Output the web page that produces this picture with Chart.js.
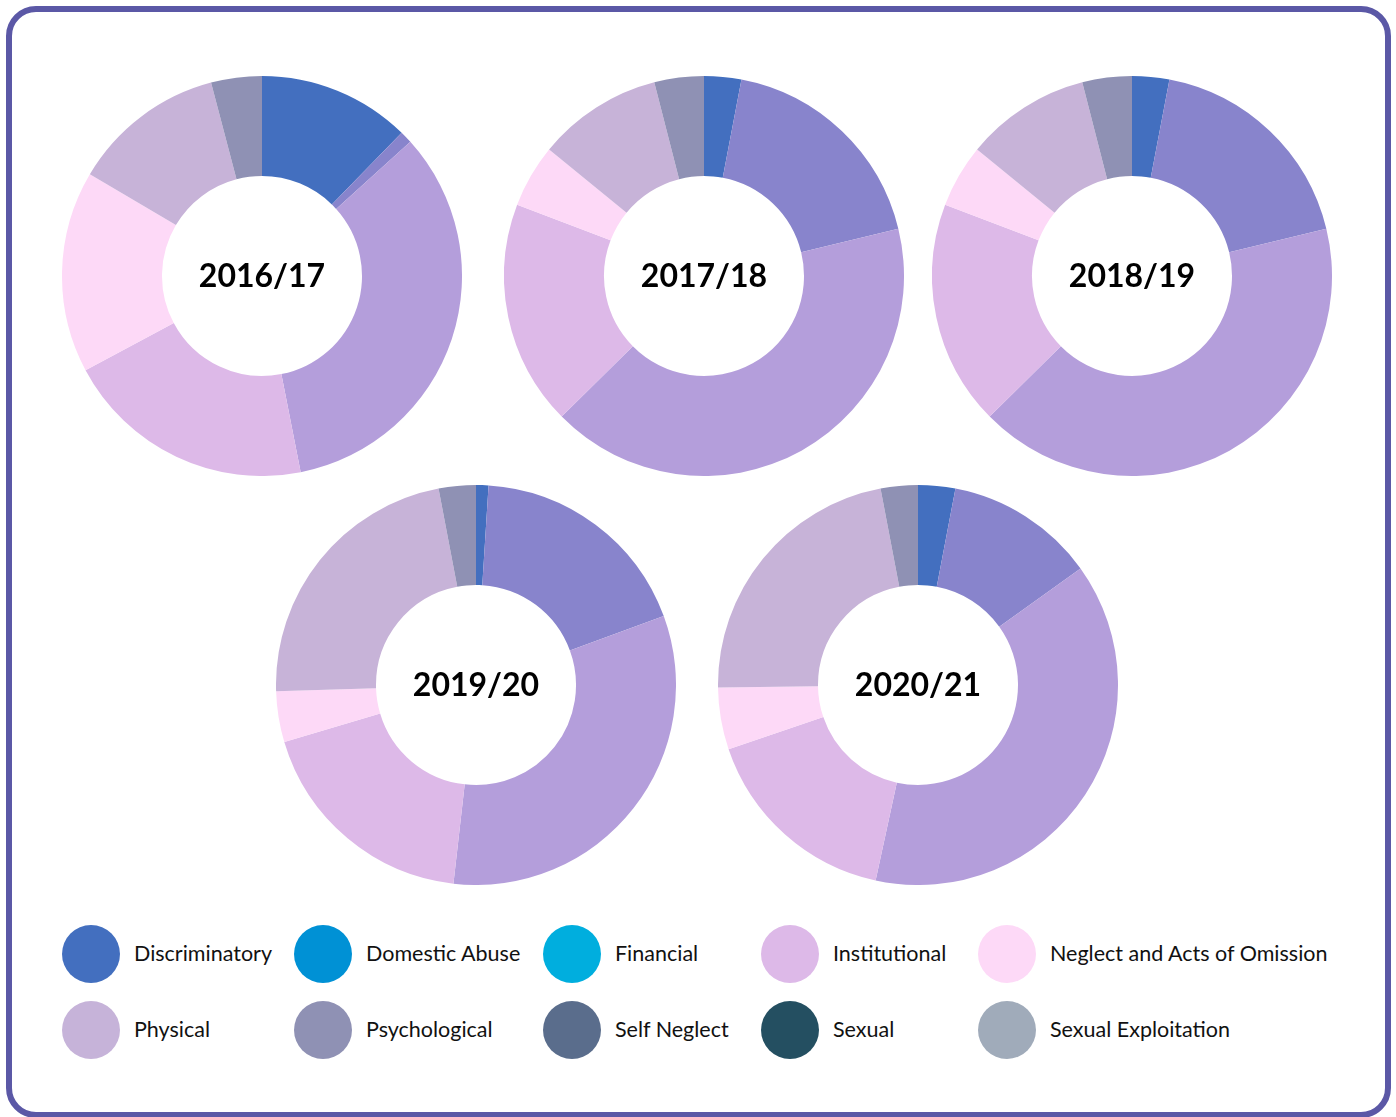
<!DOCTYPE html>
<html lang="en">
<head>
  <meta charset="UTF-8" />
  <title>Safeguarding concerns by type</title>
  <script src="https://cdn.jsdelivr.net/npm/chart.js"></script>
  <style>
    body { margin: 0; background: #fff; font-family: Lato, Arial, sans-serif; }
    .page { position: relative; width: 1396px; height: 1117px; overflow: hidden; }
    .frame {
      position: absolute; left: 6px; top: 6px; width: 1385px; height: 1112px;
      box-sizing: border-box; border: 6px solid #5b58a6; border-radius: 30px;
    }
    .donut { position: absolute; width: 400px; height: 400px; }
    .item { position: absolute; display: flex; align-items: center; gap: 14px;
            font-size: 21.5px; color: #111; white-space: nowrap; }
    .item span:last-child { position: relative; top: -1px; }
    .dot { width: 58px; height: 58px; border-radius: 50%; flex: none; }
  </style>
</head>
<body>
  <div class="page" id="page">
    <div class="frame"></div>
  </div>

  <script>
    const categories = ['Discriminatory', 'Domestic Abuse', 'Financial', 'Institutional',
      'Neglect and Acts of Omission', 'Physical', 'Psychological', 'Self Neglect',
      'Sexual', 'Sexual Exploitation'];

    // share of concerns (%) per year, same order as categories
    const y2016 = [12.3, 1.0, 33.6, 20.3, 16.3, 12.4, 4.1, 0, 0, 0];
    const y2017 = [3.0, 18.2, 41.4, 18.2, 5.1, 10.1, 4.0, 0, 0, 0];
    const y2018 = [3.0, 18.2, 41.4, 18.2, 5.1, 10.1, 4.0, 0, 0, 0];
    const y2019 = [1.0, 18.4, 32.4, 18.6, 4.1, 22.5, 3.0, 0, 0, 0];
    const y2020 = [3.0, 12.1, 38.3, 16.4, 5.0, 22.2, 3.0, 0, 0, 0];

    const years = ['2016/17', '2017/18', '2018/19', '2019/20', '2020/21'];
    const yearValues = [y2016, y2017, y2018, y2019, y2020];

    const sliceColors = ['#436fbf', '#8884cc', '#b49edb', '#ddb9e8', '#fdd9f7',
      '#c7b3d8', '#8f91b4', '#5a6d8c', '#244f61', '#a0abba'];
    const legendColors = ['#436fbf', '#0091d5', '#00aede', '#ddb9e8', '#fdd9f7',
      '#c6b3d9', '#8f91b4', '#5a6d8c', '#244f61', '#a0abba'];

    const centers = [[262, 276], [704, 276], [1132, 276], [476, 685], [918, 685]];
    const page = document.getElementById('page');

    const centerText = {
      id: 'centerText',
      afterDraw(chart, args, opts) {
        const { ctx, chartArea } = chart;
        ctx.save();
        ctx.font = 'bold 32px Lato';
        ctx.fillStyle = '#000';
        ctx.textAlign = 'center';
        ctx.textBaseline = 'middle';
        ctx.fillText(opts.text, (chartArea.left + chartArea.right) / 2,
          (chartArea.top + chartArea.bottom) / 2 + 1);
        ctx.restore();
      }
    };

    years.forEach((year, i) => {
      const box = document.createElement('div');
      box.className = 'donut';
      box.style.left = (centers[i][0] - 200) + 'px';
      box.style.top = (centers[i][1] - 200) + 'px';
      const canvas = document.createElement('canvas');
      canvas.width = 400; canvas.height = 400;
      box.appendChild(canvas);
      page.appendChild(box);

      new Chart(canvas.getContext('2d'), {
        type: 'doughnut',
        data: {
          labels: categories,
          datasets: [{
            data: yearValues[i],
            backgroundColor: sliceColors,
            borderWidth: 0
          }]
        },
        options: {
          responsive: false,
          animation: false,
          cutout: '50%',
          plugins: {
            legend: { display: false },
            tooltip: { enabled: false },
            centerText: { text: year }
          }
        },
        plugins: [centerText]
      });
    });

    // legend: 5 columns x 2 rows
    const legendX = [91, 323, 572, 790, 1007];
    const legendY = [954, 1030];
    categories.forEach((name, i) => {
      const item = document.createElement('div');
      item.className = 'item';
      item.style.left = (legendX[i % 5] - 29) + 'px';
      item.style.top = (legendY[Math.floor(i / 5)] - 29) + 'px';
      item.innerHTML = `<span class="dot" style="background:${legendColors[i]}"></span><span>${name}</span>`;
      page.appendChild(item);
    });
  </script>
</body>
</html>
